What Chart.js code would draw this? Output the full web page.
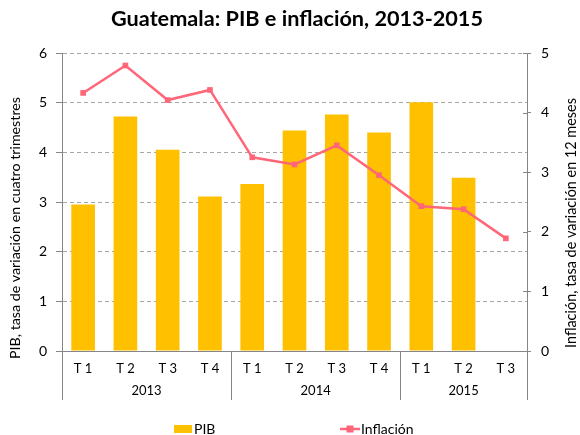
<!DOCTYPE html>
<html>
<head>
<meta charset="utf-8">
<script src="https://cdn.jsdelivr.net/npm/chart.js@4/dist/chart.umd.min.js"></script>
<style>
  html, body { margin: 0; padding: 0; background: #fff; }
  canvas { display: block; }
</style>
</head>
<body>
<canvas id="c" width="580" height="435"></canvas>
<script>
const categories = ['T 1', 'T 2', 'T 3', 'T 4', 'T 1', 'T 2', 'T 3', 'T 4', 'T 1', 'T 2', 'T 3'];
const years = ['2013', '2014', '2015'];
const yearSpans = [4, 4, 3];
const pib = [2.95, 4.72, 4.05, 3.11, 3.36, 4.44, 4.76, 4.40, 5.01, 3.49, null];
const inflacion = [4.33, 4.79, 4.21, 4.38, 3.25, 3.13, 3.45, 2.95, 2.43, 2.38, 1.89];
const leftTicks = [0, 1, 2, 3, 4, 5, 6];
const rightTicks = [0, 1, 2, 3, 4, 5];
const titleText = 'Guatemala: PIB e inflación, 2013-2015';
const leftTitle = 'PIB, tasa de variación en cuatro trimestres';
const rightTitle = 'Inflación, tasa de variación en 12 meses';

const FONT = 'Lato, "Open Sans", sans-serif';
const BAR = '#FFC000';
const LINE = '#FF6678';
const AXIS = '#868686';

function fitFont(ctx, text, weight, target, maxSize) {
  let size = maxSize;
  ctx.font = weight + ' ' + size + 'px ' + FONT;
  const w = ctx.measureText(text).width;
  size = Math.min(maxSize, size * target / w);
  ctx.font = weight + ' ' + size.toFixed(2) + 'px ' + FONT;
}

const extras = {
  id: 'extras',
  afterDraw(chart) {
    const ctx = chart.ctx;
    const ca = chart.chartArea;
    const x = chart.scales.x;
    const y1 = chart.scales.y1;
    const bottomExt = 400;
    ctx.save();
    ctx.strokeStyle = AXIS;
    ctx.lineWidth = 1;
    const lines = [ca.left, ca.right];
    let idx = 0;
    const bounds = [ca.left];
    yearSpans.forEach(n => {
      idx += n;
      const b = idx < categories.length
        ? (x.getPixelForValue(idx - 1) + x.getPixelForValue(idx)) / 2
        : ca.right;
      bounds.push(b);
      if (idx < categories.length) lines.push(b);
    });
    lines.forEach(px => {
      const xx = Math.round(px) + 0.5;
      ctx.beginPath();
      ctx.moveTo(xx, ca.bottom);
      ctx.lineTo(xx, bottomExt);
      ctx.stroke();
    });
    rightTicks.forEach(v => {
      const yy = Math.round(y1.getPixelForValue(v)) + 0.5;
      ctx.beginPath();
      ctx.moveTo(ca.right - 4, yy);
      ctx.lineTo(ca.right, yy);
      ctx.stroke();
    });
    ctx.fillStyle = '#000';
    ctx.font = '13px ' + FONT;
    ctx.textAlign = 'center';
    ctx.textBaseline = 'middle';
    years.forEach((yr, i) => {
      ctx.fillText(yr, (bounds[i] + bounds[i + 1]) / 2, 391);
    });
    fitFont(ctx, titleText, 'bold', 372, 24);
    ctx.fillText(titleText, 297, 19);
    fitFont(ctx, leftTitle, 'normal', 262, 16);
    ctx.save();
    ctx.translate(15, 228);
    ctx.rotate(-Math.PI / 2);
    ctx.fillText(leftTitle, 0, 0);
    ctx.restore();
    fitFont(ctx, rightTitle, 'normal', 250, 16);
    ctx.save();
    ctx.translate(571, 223);
    ctx.rotate(-Math.PI / 2);
    ctx.fillText(rightTitle, 0, 0);
    ctx.restore();
    ctx.font = '14px ' + FONT;
    ctx.textAlign = 'left';
    ctx.fillStyle = BAR;
    ctx.fillRect(174, 425, 18, 8);
    ctx.fillStyle = '#000';
    ctx.fillText(chart.data.datasets[1].label, 194, 429);
    ctx.strokeStyle = LINE;
    ctx.lineWidth = 2.5;
    ctx.beginPath();
    ctx.moveTo(340, 429);
    ctx.lineTo(360, 429);
    ctx.stroke();
    ctx.fillStyle = LINE;
    ctx.fillRect(346.5, 425.5, 7, 7);
    ctx.fillStyle = '#000';
    ctx.fillText(chart.data.datasets[0].label, 361, 429);
    ctx.restore();
  }
};

new Chart(document.getElementById('c'), {
  type: 'bar',
  data: {
    labels: categories,
    datasets: [
      {
        type: 'line',
        label: 'Inflación',
        data: inflacion,
        yAxisID: 'y1',
        borderColor: LINE,
        backgroundColor: LINE,
        borderWidth: 2.5,
        pointStyle: 'rect',
        pointRadius: 4,
        pointBorderWidth: 0,
        tension: 0,
        order: 0
      },
      {
        type: 'bar',
        label: 'PIB',
        data: pib,
        yAxisID: 'y',
        backgroundColor: BAR,
        barPercentage: 0.56,
        categoryPercentage: 1,
        order: 1
      }
    ]
  },
  options: {
    responsive: false,
    devicePixelRatio: 1,
    animation: false,
    layout: { padding: { top: 53, left: 0, right: 0, bottom: 0 } },
    plugins: { legend: { display: false }, title: { display: false }, tooltip: { enabled: false } },
    scales: {
      x: {
        grid: { display: false },
        border: { display: true, color: AXIS },
        ticks: { color: '#000', font: { size: 13, family: FONT }, padding: 2, maxRotation: 0 },
        afterFit: s => { s.height = 84; }
      },
      y: {
        position: 'left',
        min: 0, max: 6,
        afterBuildTicks: s => { s.ticks = leftTicks.map(v => ({ value: v })); },
        ticks: { color: '#000', font: { size: 14, family: FONT }, padding: 9 },
        grid: {
          color: c => (c.tick && c.tick.value === 0) ? 'rgba(0,0,0,0)' : '#A6A6A6',
          tickColor: AXIS, tickLength: 6, tickBorderDash: []
        },
        border: { display: true, color: AXIS, dash: [4, 3] },
        afterFit: s => { s.width = 62; }
      },
      y1: {
        position: 'right',
        min: 0, max: 5,
        afterBuildTicks: s => { s.ticks = rightTicks.map(v => ({ value: v })); },
        ticks: { color: '#000', font: { size: 14, family: FONT }, padding: 10 },
        grid: { drawOnChartArea: false, tickColor: AXIS, tickLength: 4 },
        border: { display: true, color: AXIS },
        afterFit: s => { s.width = 53; }
      }
    }
  },
  plugins: [extras]
});
</script>
</body>
</html>
